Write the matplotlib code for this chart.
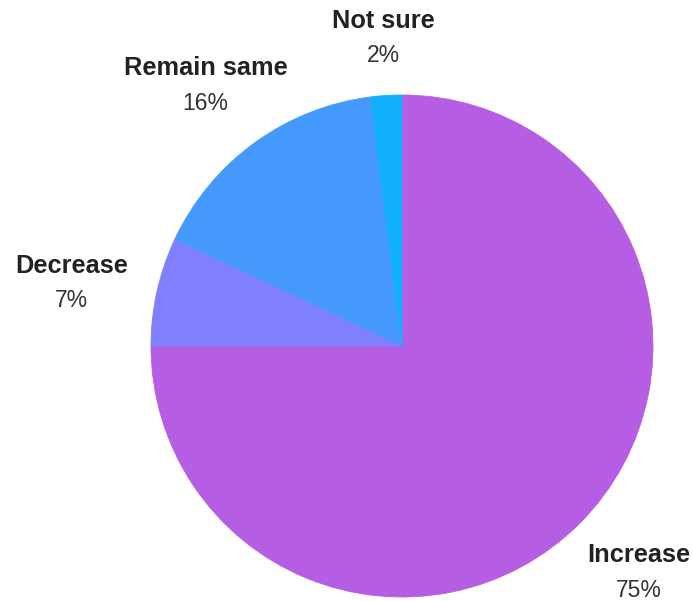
import numpy as np
import matplotlib.pyplot as plt

# survey answers, in drawing order (clockwise from 12 o'clock)
answers = ['Increase', 'Decrease', 'Remain same', 'Not sure']
shares = [75, 7, 16, 2]
colors = ['#b55ee3', '#8080fe', '#4599fd', '#10b0fc']
# how far out each label sits, as a multiple of the radius, plus a small nudge (px)
label_dist = [1.30, 1.35, 1.31, 1.24]
label_nudge = [(6, 4), (0, -11), (-3, -6), (1, -3)]

W, H = 693, 601
cx, cy, r = 402, H - 346, 251

fig = plt.figure(figsize=(W / 100, H / 100), dpi=100)
ax = fig.add_axes([0, 0, 1, 1])

wedges, _ = ax.pie(shares, colors=colors, startangle=90, counterclock=False,
                   center=(cx, cy), radius=r, frame=True)
# edge in the wedge's own colour hides the anti-aliasing seams
for w in wedges:
    w.set_edgecolor(w.get_facecolor())
    w.set_linewidth(0.6)
ax.set_xlim(0, W)
ax.set_ylim(0, H)
ax.set_aspect('equal')
ax.axis('off')

# name in bold with the share underneath, placed along each wedge's middle angle
for w, name, pct, d, (nx, ny) in zip(wedges, answers, shares, label_dist, label_nudge):
    mid = np.deg2rad((w.theta1 + w.theta2) / 2)
    x = cx + d * r * np.cos(mid) + nx
    y = cy + d * r * np.sin(mid) + ny
    ax.text(x, y + 17.5, name, ha='center', va='center', fontsize=18.3,
            fontweight='bold', color='#222222', family='Liberation Sans')
    ax.text(x, y - 17.5, f'{pct}%', ha='center', va='center', fontsize=16.5,
            color='#333333', family='Liberation Sans')

fig.savefig('out.png', dpi=100, facecolor='white')
